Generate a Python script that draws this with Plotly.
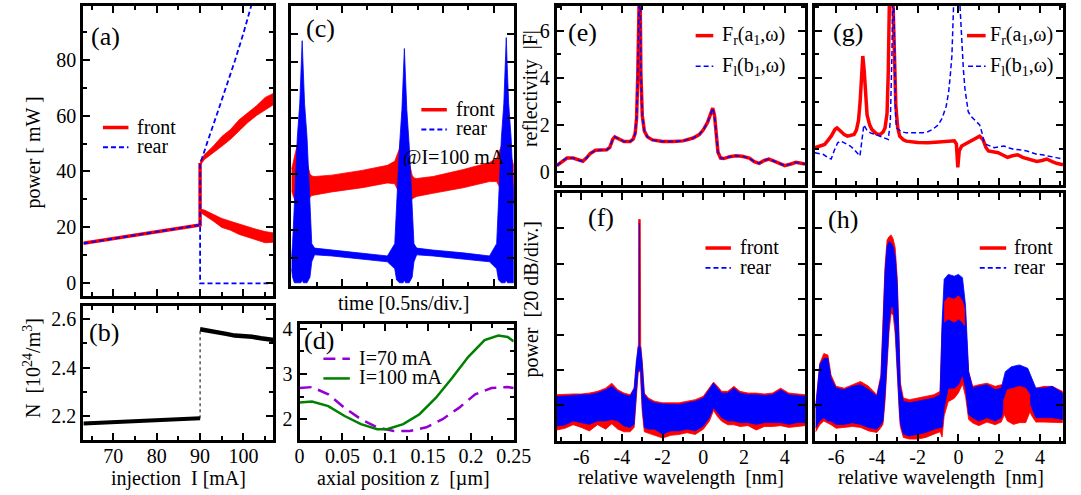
import plotly.graph_objects as go

W, H = 1081, 495
FONT = "Liberation Serif, Times New Roman, DejaVu Serif, serif"
FS = 20
RED = "#ff0000"
BLUE = "#0000ff"
PURPLE = "#9400d3"
GREEN = "#008000"

# ---------------- (a) output power vs injection current ----------------
I_below = [63.1, 90.0]
P_below = [14.3, 20.9]
I_branch = [90, 91, 93, 95, 97, 99, 101, 103, 105, 107]
front_up_hi = [43.8, 46, 49, 52.5, 55, 58.5, 61, 63.5, 66.5, 68]
front_up_lo = [42.2, 44.3, 46.5, 49, 51.5, 54.5, 57.5, 60, 62, 64]
front_dn_hi = [26.6, 26.2, 24.7, 23.2, 22.2, 21.2, 20.2, 19.3, 18.5, 18]
front_dn_lo = [25.4, 24.3, 22.3, 20, 19, 17.5, 16.5, 15.5, 14.5, 14.7]
I_rear_up = [90.0, 90.5, 91, 92, 94, 96, 98, 100, 102]
P_rear_up = [42.5, 45, 47.5, 52, 61, 70, 79.5, 89.5, 100.5]
I_jump = 90.0
P_front_jump = 43.0
I_end = 107.0

# ---------------- (b) carrier density ----------------
I_N_below = [63.1, 90.0]
N_below = [2.171, 2.192]
I_N_above = [90, 92, 94, 96, 98, 100, 102, 104, 106, 107]
N_above = [2.557, 2.552, 2.544, 2.538, 2.531, 2.529, 2.526, 2.520, 2.515, 2.513]

# ---------------- (c) time traces @ I=100 mA ----------------
t_ns = [0, 0.012, 0.03, 0.059, 0.083, 0.095, 0.107, 0.119, 0.131, 0.155, 0.184, 0.202,
        0.23, 0.4, 0.7, 0.95, 1.023, 1.041, 1.07, 1.094, 1.106, 1.118, 1.13, 1.142,
        1.166, 1.195, 1.213, 1.24, 1.4, 1.7, 1.96, 2.031, 2.049, 2.078, 2.102, 2.114,
        2.126, 2.138, 2.15, 2.174, 2.2]
front_t_hi = [4.17, 4.3, 4.6, 5.1, 5.4, 5.5, 5.5, 5.3, 5.0, 4.4, 4.0, 3.92,
              3.9, 3.95, 4.12, 4.3, 4.45, 4.6, 4.9, 5.4, 5.55, 5.6, 5.3, 5.0,
              4.4, 3.95, 3.85, 3.83, 3.9, 4.15, 4.4, 4.55, 4.7, 5.0, 5.35, 5.45,
              5.5, 5.3, 5.05, 4.6, 4.3]
front_t_lo = [3.4, 3.3, 3.1, 2.8, 2.5, 2.4, 2.4, 2.5, 2.7, 2.9, 3.15, 3.22,
              3.25, 3.35, 3.5, 3.67, 3.64, 3.5, 3.3, 3.0, 2.8, 2.75, 2.75, 2.8,
              2.95, 3.1, 3.14, 3.19, 3.3, 3.5, 3.72, 3.72, 3.6, 3.4, 3.0, 2.85,
              2.75, 2.6, 2.6, 2.8, 3.0]
rear_t_hi = [1.0, 1.5, 2.9, 5.3, 6.5, 7.6, 8.76, 7.6, 6.5, 5.3, 2.9, 1.5,
             1.34, 1.27, 1.17, 1.06, 1.5, 2.9, 5.0, 6.3, 7.4, 8.48, 7.4, 6.3,
             5.0, 2.9, 1.5, 1.34, 1.27, 1.17, 1.06, 1.5, 2.9, 5.3, 6.5, 7.6,
             8.87, 7.6, 6.5, 5.3, 3.2]
rear_t_lo = [0.6, 0.3, 0.1, 0.1, 0.1, 0.1, 0.2, 0.1, 0.1, 0.1, 0.3, 0.85,
             1.1, 1.06, 0.95, 0.85, 0.6, 0.2, 0.1, 0.1, 0.1, 0.2, 0.1, 0.1,
             0.1, 0.3, 0.85, 1.1, 1.06, 0.95, 0.85, 0.6, 0.2, 0.1, 0.1, 0.1,
             0.2, 0.1, 0.1, 0.1, 0.1]

# ---------------- (d) axial profiles ----------------
z_70 = [0, 0.0145, 0.0335, 0.0526, 0.0716, 0.0907, 0.1098, 0.1288, 0.148, 0.167,
        0.186, 0.205, 0.224, 0.243, 0.25]
N_70 = [2.69, 2.71, 2.55, 2.25, 2.0, 1.82, 1.74, 1.74, 1.82, 2.0, 2.25, 2.55, 2.69, 2.71, 2.69]
z_100 = [0, 0.0145, 0.0335, 0.0526, 0.0716, 0.0907, 0.102, 0.121, 0.140, 0.159, 0.178,
         0.197, 0.216, 0.232, 0.243, 0.25]
N_100 = [2.37, 2.39, 2.29, 2.07, 1.89, 1.78, 1.78, 1.89, 2.11, 2.47, 2.91, 3.38, 3.75,
         3.85, 3.82, 3.72]

# ---------------- (e) reflectivity below threshold ----------------
lam_e = [-7.2, -6.9, -6.7, -6.4, -6.1, -5.92, -5.75, -5.55, -5.3, -5.0, -4.75, -4.6,
         -4.45, -4.35, -4.15, -3.9, -3.6, -3.45, -3.35, -3.28, -3.22, -3.17, -3.12,
         -3.07, -3.0, -2.9, -2.75, -2.5, -2.0, -1.5, -1.0, -0.5, -0.2, 0.0, 0.2, 0.35,
         0.46, 0.55, 0.62, 0.72, 0.85, 1.0, 1.3, 1.6, 1.9, 2.26, 2.5, 2.74, 3.0, 3.22,
         3.45, 3.7, 4.0, 4.3, 4.55, 4.8, 5.0]
Fr_e = [0.28, 0.5, 0.6, 0.6, 0.5, 0.47, 0.6, 0.8, 0.93, 0.95, 0.95, 1.05,
        1.4, 1.5, 1.42, 1.3, 1.3, 1.4, 1.65, 2.3, 4.2, 9.0, 9.0,
        4.2, 2.4, 1.75, 1.5, 1.37, 1.3, 1.3, 1.33, 1.45, 1.6, 1.8, 2.1, 2.45,
        2.72, 2.4, 1.6, 0.85, 0.6, 0.58, 0.66, 0.7, 0.68, 0.6, 0.45, 0.38, 0.5, 0.56,
        0.48, 0.38, 0.28, 0.35, 0.42, 0.38, 0.35]
Fl_e = [0.28, 0.5, 0.6, 0.6, 0.5, 0.47, 0.6, 0.8, 0.93, 0.95, 0.95, 1.05,
        1.4, 1.5, 1.42, 1.3, 1.3, 1.4, 1.65, 2.3, 4.2, 9.0, 9.0,
        4.2, 2.4, 1.75, 1.5, 1.37, 1.3, 1.3, 1.33, 1.45, 1.6, 1.8, 2.1, 2.45,
        2.72, 2.4, 1.6, 0.85, 0.6, 0.58, 0.66, 0.7, 0.68, 0.6, 0.45, 0.38, 0.5, 0.56,
        0.48, 0.38, 0.28, 0.35, 0.42, 0.38, 0.35]

# ---------------- (g) reflectivity above threshold ----------------
lam_gr = [-7.04, -6.8, -6.56, -6.4, -6.24, -6.05, -5.95, -5.8, -5.6, -5.44, -5.25, -5.12,
          -5.0, -4.9, -4.82, -4.76, -4.69, -4.62, -4.55, -4.48, -4.35, -4.24, -4.0, -3.84,
          -3.7, -3.6, -3.5, -3.44, -3.38, -3.3, -3.22, -3.14, -3.07, -2.98, -2.88, -2.7,
          -2.56, -2.0, -1.5, -0.96, -0.5, -0.2, -0.1, -0.06, -0.03, 0.0, 0.04, 0.16, 0.4,
          0.64, 0.85, 1.04, 1.2, 1.35, 1.47, 1.7, 1.95, 2.2, 2.41, 2.65, 2.91, 3.15, 3.39,
          3.6, 3.84, 4.1, 4.33, 4.6, 4.81, 5.13]
Fr_g = [1.04, 1.1, 1.18, 1.35, 1.53, 1.82, 1.88, 1.76, 1.6, 1.53, 1.55, 1.6,
        1.8, 2.2, 3.0, 4.24, 4.93, 4.3, 3.2, 2.43, 2.0, 1.81, 1.62, 1.6,
        1.7, 1.88, 2.5, 4.24, 7.6, 10.0, 7.6, 4.5, 2.85, 1.9, 1.53, 1.38,
        1.32, 1.26, 1.25, 1.28, 1.3, 1.33, 1.2, 0.6, 0.21, 0.5, 0.9, 1.11, 1.22,
        1.32, 1.42, 1.53, 1.39, 1.05, 0.9, 0.86, 0.83, 0.72, 0.63, 0.7, 0.74, 0.63, 0.56,
        0.52, 0.46, 0.5, 0.56, 0.45, 0.38, 0.32]
lam_gl = [-7.04, -6.64, -6.4, -6.24, -6.1, -5.92, -5.76, -5.5, -5.3, -5.1, -4.96, -4.83,
          -4.74, -4.64, -4.5, -4.32, -4.0, -3.84, -3.6, -3.44, -3.34, -3.26, -3.2, -3.14,
          -3.08, -3.04, -2.8, -2.56, -2.0, -1.76, -1.5, -1.28, -1.0, -0.8, -0.6, -0.48,
          -0.4, -0.32, -0.24, -0.1, 0.0, 0.08, 0.16, 0.24, 0.32, 0.4, 0.48, 0.64, 0.8,
          0.95, 1.04, 1.15, 1.25, 1.36, 1.56, 1.76, 2.0, 2.24, 2.5, 2.72, 3.0, 3.36, 3.6,
          3.84, 4.1, 4.48, 4.8, 5.13]
Fl_g = [0.83, 0.76, 0.62, 0.56, 0.9, 1.25, 1.32, 1.22, 1.11, 0.95, 0.83, 0.69,
        1.3, 2.01, 1.8, 1.67, 1.58, 1.53, 1.45, 1.39, 2.15, 5.0, 9.0, 5.0,
        2.4, 1.88, 1.72, 1.67, 1.66, 1.67, 1.72, 1.81, 2.0, 2.29, 2.8, 3.4,
        4.1, 4.93, 7.0, 12.0, 12.0, 7.0, 5.6, 4.4, 3.54, 2.95, 2.57, 2.35, 2.22,
        2.1, 2.01, 1.7, 1.3, 1.18, 1.1, 1.04, 1.08, 1.11, 1.03, 0.97, 0.95, 0.9, 0.83,
        0.76, 0.74, 0.69, 0.62, 0.56]

# ---------------- (f) optical spectra below threshold (dB) ----------------
lam_f = [-7.2, -6.8, -6.4, -6.0, -5.6, -5.2, -4.8, -4.5, -4.2, -3.9, -3.6, -3.4, -3.3,
         -3.2, -3.19, -3.18, -3.1, -3.09, -3.08, -3.0, -2.9, -2.7, -2.4, -2.0, -1.6,
         -1.2, -0.8, -0.4, 0.0, 0.3, 0.5, 0.7, 0.9, 1.2, 1.5, 1.8, 2.2, 2.6, 3.0, 3.4,
         3.8, 4.2, 4.6, 5.0]
front_f_hi = [-114, -113.6, -113.6, -113.6, -113.1, -112.1, -110.3, -107.5, -111.2, -113.1,
              -114, -110.3, -95.4, -86, -86, -15, -15, -86, -86, -95.4, -113.1, -115.9,
              -117.7, -118.6, -118.6, -118.6, -117.7, -116.8, -114.9, -110.3, -106.9,
              -109.3, -112.1, -112.1, -109.3, -112.1, -113.1, -113.1, -113.6, -113.1,
              -110.3, -113.1, -113.6, -114]
front_f_lo = [-134, -133, -131, -132.5, -134.5, -131, -133.5, -130.5, -133.5, -135,
              -135, -132.5, -117, -101, -101, -101, -101, -101, -101, -124, -135,
              -136, -137, -138.5, -137, -136.5, -135.5, -136.5, -133.5, -128.9,
              -123, -126.5, -129, -131, -131, -132, -131.5, -134, -132, -132,
              -131.5, -132.5, -132, -131.5]
lam_f_rear = [-7.2, -6.8, -6.4, -6.0, -5.6, -5.2, -4.8, -4.5, -4.2, -3.9, -3.6, -3.4, -3.3,
              -3.2, -3.15, -3.145, -3.135, -3.13, -3.08, -3.0, -2.9, -2.7, -2.4, -2.0, -1.6,
              -1.2, -0.8, -0.4, 0.0, 0.3, 0.5, 0.7, 0.9, 1.2, 1.5, 1.8, 2.2, 2.6, 3.0, 3.4,
              3.8, 4.2, 4.6, 5.0]
rear_f_hi = [-115, -114.5, -114.4, -114, -114, -113.1, -111.2, -109.3, -112.1, -114, -114.9,
             -110.3, -95.4, -87, -87, -17, -17, -87, -87, -97.2, -114, -116.8, -118.6,
             -119.2, -119.6, -119.6, -118.6, -117.7, -115.9, -111.2, -107.5, -110.3,
             -113.1, -113.1, -110.3, -113.1, -114, -114, -114.4, -114, -111.2, -114,
             -114.4, -114.9]
rear_f_lo = [-131.7, -131.1, -128.9, -129.8, -130.8, -128.9, -128.9, -128, -128.9, -131.7,
             -132.6, -130.8, -114, -100, -100, -100, -100, -100, -100, -121.4, -132.6,
             -133.5, -133.5, -136.3, -134.5, -134.5, -133.5, -134.5, -131.7, -127,
             -121.4, -124.2, -127, -128.9, -128.9, -129.8, -129.8, -130.8, -129.8,
             -129.8, -129.8, -130.8, -129.8, -129.8]

# ---------------- (h) optical spectra above threshold (dB) ----------------
lam_h = [-7.0, -6.8, -6.6, -6.4, -6.25, -6.0, -5.6, -5.2, -4.8, -4.4, -4.0, -3.8, -3.7,
         -3.6, -3.5, -3.4, -3.3, -3.2, -3.1, -3.0, -2.9, -2.85, -2.7, -2.4, -2.0, -1.6,
         -1.2, -0.9, -0.8, -0.7, -0.5, -0.2, 0.0, 0.2, 0.35, 0.5, 0.7, 1.0, 1.4, 1.8,
         2.1, 2.3, 2.6, 3.0, 3.4, 3.6, 3.8, 4.2, 4.6, 5.1]
rear_h_hi = [-121.4, -97.2, -93.5, -93.5, -104.7, -110.3, -111.2, -109.3, -108.4, -111.2,
             -114.9, -104.7, -76.7, -45.1, -30.2, -27.4, -28.3, -30.5, -36, -52,
             -90, -110, -117.7, -118.6, -117.7, -116.8, -115.9, -114, -73, -48.8, -46,
             -47, -46, -47.9, -63.7, -101, -110.3, -109.3, -108.4, -111.2, -110.3,
             -101, -98.2, -97.2, -99.1, -104.7, -110.3, -110.3, -109.3, -113.1]
rear_h_lo = [-132.6, -128.9, -127, -128.9, -128.9, -130.8, -130.8, -129.8, -130.8, -132.6,
             -133.5, -130.8, -128.9, -114, -95.4, -73, -63.7, -65, -75, -101,
             -121.4, -130, -136.3, -137.3, -136.3, -135.4, -133.5, -132.6, -132.6, -121.4,
             -110.3, -110.3, -108.4, -102.8, -110.3, -125.2, -127, -128.9, -127, -128.9,
             -127, -117.7, -114, -114, -115.9, -121.4, -127, -127, -127, -128]
front_h_hi = [-120.5, -96.3, -90.7, -91.6, -102.8, -109.3, -110.3, -108.4, -106.5, -109.3,
              -114, -102.8, -73, -41.4, -26.5, -24.6, -23.7, -26, -31, -48,
              -86, -107, -115.9, -116.8, -115.9, -114.9, -114, -112.1, -76.7, -61.8, -59,
              -60, -58.1, -60.9, -73, -101, -109.3, -108.4, -107.5, -109.3, -108.4,
              -109.3, -110.3, -109.3, -111.2, -112.1, -110.3, -109.3, -109.3, -112.1]
front_h_lo = [-135, -131, -128.9, -130, -131, -133, -132.5, -132, -132.5, -134.5,
              -135.4, -132.6, -130.8, -118, -99, -78, -68, -69, -80, -105,
              -124, -132, -138.2, -139.1, -139.1, -138.2, -136.3, -135, -138, -126,
              -118, -116, -113, -108, -115, -128, -130, -131.5, -129.5,
              -131, -129.5, -124, -120, -120, -121, -126, -129.5, -129.5,
              -129.5, -129.8]
# front level inside the central mode and the side mode, where it lies under the rear trace
lam_h_core = [-0.7, -0.5, -0.2, 0.0, 0.2, 0.3, None, 2.2, 2.4, 2.7, 3.0, 3.3, 3.5]
front_h_core_hi = [-61.8, -59, -60, -58.1, -60.9, -65.6, None,
                   -118, -111.2, -110.3, -109.3, -110.3, -114]
front_h_core_lo = [-73, -71.2, -73, -71.2, -73, -74.9, None,
                   -124, -128.9, -130.8, -129.8, -129.8, -124]

fig = go.Figure()


def dx(l, r):
    return [l / W, r / W]


def dy(t, b):
    return [1 - b / H, 1 - t / H]


def line(x, y, xa, ya, color, width, dash="solid"):
    fig.add_trace(go.Scatter(x=x, y=y, xaxis=xa, yaxis=ya, mode="lines",
                             line=dict(color=color, width=width, dash=dash),
                             showlegend=False, hoverinfo="skip"))


def band(x, lo, hi, xa, ya, color, edge=0.8):
    xs = list(x) + list(x)[::-1]
    ys = list(hi) + list(lo)[::-1]
    fig.add_trace(go.Scatter(x=xs, y=ys, xaxis=xa, yaxis=ya, mode="lines",
                             fill="toself", fillcolor=color,
                             line=dict(color=color, width=edge),
                             showlegend=False, hoverinfo="skip"))


def band_segments(x, lo, hi, xa, ya, color):
    seg_x, seg_lo, seg_hi = [], [], []
    for xv, l, h in zip(x + [None], lo + [None], hi + [None]):
        if xv is None:
            if seg_x:
                band(seg_x, seg_lo, seg_hi, xa, ya, color)
            seg_x, seg_lo, seg_hi = [], [], []
        else:
            seg_x.append(xv)
            seg_lo.append(l)
            seg_hi.append(h)


RDASH = "5px,3px"

# (a)
band(I_branch, front_up_lo, front_up_hi, "x", "y", RED)
band(I_branch, front_dn_lo, front_dn_hi, "x", "y", RED)
line(I_below + [I_jump], P_below + [P_front_jump], "x", "y", RED, 3.5)
line(I_below + [I_jump, I_jump, I_end], P_below + [0, 0, 0], "x", "y", BLUE, 1.8, RDASH)
line([I_jump] + I_rear_up, [P_below[-1]] + P_rear_up, "x", "y", BLUE, 1.8, RDASH)

# (b)
line([I_jump, I_jump], [N_below[-1], N_above[0]], "x2", "y2", "black", 1, "dot")
line(I_N_below, N_below, "x2", "y2", "black", 4)
line(I_N_above, N_above, "x2", "y2", "black", 4.5)

# (c)
band(t_ns, front_t_lo, front_t_hi, "x3", "y3", RED)
band(t_ns, rear_t_lo, rear_t_hi, "x3", "y3", BLUE)

# (d)
line(z_70, N_70, "x4", "y4", PURPLE, 2.5, "12px,7px")
line(z_100, N_100, "x4", "y4", GREEN, 2.5)

# (e)
line(lam_e, Fr_e, "x5", "y5", RED, 3.5)
line(lam_e, Fl_e, "x5", "y5", BLUE, 1.5, RDASH)

# (g)
line(lam_gr, Fr_g, "x7", "y7", RED, 3.5)
line(lam_gl, Fl_g, "x7", "y7", BLUE, 1.5, RDASH)

# (f)
band(lam_f, front_f_lo, front_f_hi, "x6", "y6", RED)
band(lam_f_rear, rear_f_lo, rear_f_hi, "x6", "y6", BLUE, 0.6)

# (h)
band(lam_h, front_h_lo, front_h_hi, "x8", "y8", RED)
band(lam_h, rear_h_lo, rear_h_hi, "x8", "y8", BLUE)
band_segments(lam_h_core, front_h_core_lo, front_h_core_hi, "x8", "y8", RED)


def axis(domain, rng, anchor, labels=True, dtick=None, tick0=0, minor=None,
         tickvals=None, ticktext=None, standoff=0):
    a = dict(domain=domain, range=rng, anchor=anchor, showline=True, linewidth=3,
             linecolor="black", mirror="allticks", ticks="inside", ticklen=7,
             tickwidth=2, tickcolor="black", showgrid=False, zeroline=False,
             showticklabels=labels, fixedrange=True, ticklabelstandoff=standoff,
             tickfont=dict(family=FONT, size=FS, color="black"))
    if tickvals is not None:
        a.update(tickmode="array", tickvals=tickvals,
                 ticktext=ticktext if ticktext else [str(v) for v in tickvals])
    else:
        a.update(tickmode="linear", dtick=dtick, tick0=tick0)
    if minor is not None:
        a["minor"] = dict(ticks="inside", ticklen=4, tickwidth=1.5, tickcolor="black",
                          tickmode="linear", dtick=minor, tick0=tick0, showgrid=False)
    return a


lam_ticks = [-6, -4, -2, 0, 2, 4]
lam_text = ["-6", "-4", "-2", "0", "2", "4"]
XS = -4

layout = dict(
    width=W, height=H, margin=dict(l=0, r=0, t=0, b=0),
    paper_bgcolor="white", plot_bgcolor="white", showlegend=False,
    font=dict(family=FONT, size=FS, color="black"),
    # (a)
    xaxis=axis(dx(80, 274), [63.1, 106.9], "y", False, 10, 0, 5),
    yaxis=axis(dy(0, 294), [-4.7, 99.2], "x", True, 20, 0, 10),
    # (b)
    xaxis2=axis(dx(80, 274), [63.1, 106.9], "y2", True, 10, 0, 5, standoff=XS),
    yaxis2=axis(dy(303.3, 439.3), [2.103, 2.654], "x2", True, tickvals=[2.2, 2.4, 2.6],
                minor=0.1),
    # (c)
    xaxis3=axis(dx(292.3, 519.3), [0, 2.2], "y3", False, 0.5, 0, 0.25),
    yaxis3=axis(dy(0, 283), [0, 10.0], "x3", False, 1, 0),
    # (d)
    xaxis4=axis(dx(300.7, 519.3), [0, 0.25], "y4", True, 0.05, 0, 0.025, standoff=XS),
    yaxis4=axis(dy(321.7, 439.3), [1.54, 4.11], "x4", True, 1, 0, 0.5),
    # (e)
    xaxis5=axis(dx(563.3, 816.7), [-7.2, 5.0], "y5", False, tickvals=lam_ticks,
                ticktext=lam_text, minor=1),
    yaxis5=axis(dy(0, 180.7), [-0.52, 7.05], "x5", True, 2, 0, 1),
    # (f)
    xaxis6=axis(dx(563.3, 816.7), [-7.2, 5.0], "y6", True, tickvals=lam_ticks,
                ticktext=lam_text, minor=1, standoff=XS),
    yaxis6=axis(dy(189.3, 440), [-140, 0], "x6", False, 20, 0),
    # (g)
    xaxis7=axis(dx(826.7, 1080), [-7.04, 5.13], "y7", False, tickvals=lam_ticks,
                ticktext=lam_text, minor=1),
    yaxis7=axis(dy(0, 180.7), [-0.52, 7.05], "x7", False, 2, 0, 1),
    # (h)
    xaxis8=axis(dx(826.7, 1080), [-7.04, 5.13], "y8", True, tickvals=lam_ticks,
                ticktext=lam_text, minor=1, standoff=XS),
    yaxis8=axis(dy(189.3, 440), [-140, 0], "x8", False, 20, 0),
)
fig.update_layout(**layout)

annotations = []
shapes = []


def text(px, py, s, size=FS, anchor="left", angle=0, box_h=None):
    a = dict(x=px / W, y=1 - py / H, xref="paper", yref="paper", text=s,
             showarrow=False, xanchor=anchor, yanchor="middle", textangle=angle,
             borderpad=0, font=dict(family=FONT, size=size, color="black"))
    if box_h is not None:
        a["height"] = box_h
    annotations.append(a)


def key(x0, x1, py, color, width, dash="solid"):
    shapes.append(dict(type="line", xref="paper", yref="paper", x0=x0 / W, x1=x1 / W,
                       y0=1 - py / H, y1=1 - py / H,
                       line=dict(color=color, width=width, dash=dash)))


SP = "\u00a0 "
KH = 18  # height of a key label box, keeps stacked key labels apart

# panel tags
text(87, 31, "(a)", 26)
text(85, 331, "(b)", 26)
text(306, 23, "(c)", 26)
text(304, 339, "(d)", 26)
text(574, 27, "(e)", 26)
text(844, 27, "(g)", 26)
text(594, 214, "(f)", 26)
text(839, 216, "(h)", 26)

# axis titles
text(29, 148, "power [ mW ]", FS, "center", -90)
text(27, 366, "N" + SP + "[10<sup>24</sup>/m<sup>3</sup>]", FS, "center", -90)
text(177, 478, "injection" + SP + "I [mA]", FS, "center")
text(407, 301, "time [0.5ns/div.]", FS, "center")
text(407, 478, "axial position z" + SP + "[\u00b5m]", FS, "center")
text(537, 84, "reflectivity" + SP + "|F|", FS, "center", -90)
text(537, 297, "power" + SP + "[20 dB/div.]", FS, "center", -90)
text(690, 477, "relative wavelength" + SP + "[nm]", FS, "center")
text(955, 477, "relative wavelength" + SP + "[nm]", FS, "center")

# keys
key(100, 126, 123, RED, 3.5)
key(100, 126, 143, BLUE, 1.8, RDASH)
text(134, 122, "front", box_h=KH)
text(134, 142, "rear", box_h=KH)

key(425, 451, 105, RED, 3.5)
key(425, 451, 125, BLUE, 1.8, RDASH)
text(459, 104, "front", box_h=KH)
text(459, 124, "rear", box_h=KH)
text(458, 153, "@I=100 mA", FS, "center", box_h=KH)

key(325, 352, 357, PURPLE, 2.5, "12px,7px")
key(325, 352, 377, GREEN, 2.5)
text(360, 356, "I=70 mA", box_h=KH)
text(360, 376, "I=100 mA", box_h=KH)

key(705, 723, 30, RED, 3.5)
key(705, 723, 61, BLUE, 1.5, RDASH)
text(731, 30, "F<sub>r</sub>(a<sub>1</sub>,\u03c9)")
text(731, 61, "F<sub>l</sub>(b<sub>1</sub>,\u03c9)")

key(982, 1001, 30, RED, 3.5)
key(983, 1001, 61, BLUE, 1.5, RDASH)
text(1004, 30, "F<sub>r</sub>(a<sub>1</sub>,\u03c9)")
text(1004, 61, "F<sub>l</sub>(b<sub>1</sub>,\u03c9)")

key(715, 741, 245, RED, 3.5)
key(715, 741, 265, BLUE, 1.8, RDASH)
text(749, 244, "front", box_h=KH)
text(749, 264, "rear", box_h=KH)

key(995, 1022, 245, RED, 3.5)
key(995, 1022, 265, BLUE, 1.8, RDASH)
text(1029, 244, "front", box_h=KH)
text(1029, 264, "rear", box_h=KH)

fig.update_layout(annotations=annotations, shapes=shapes)
fig.write_html("out.html")
